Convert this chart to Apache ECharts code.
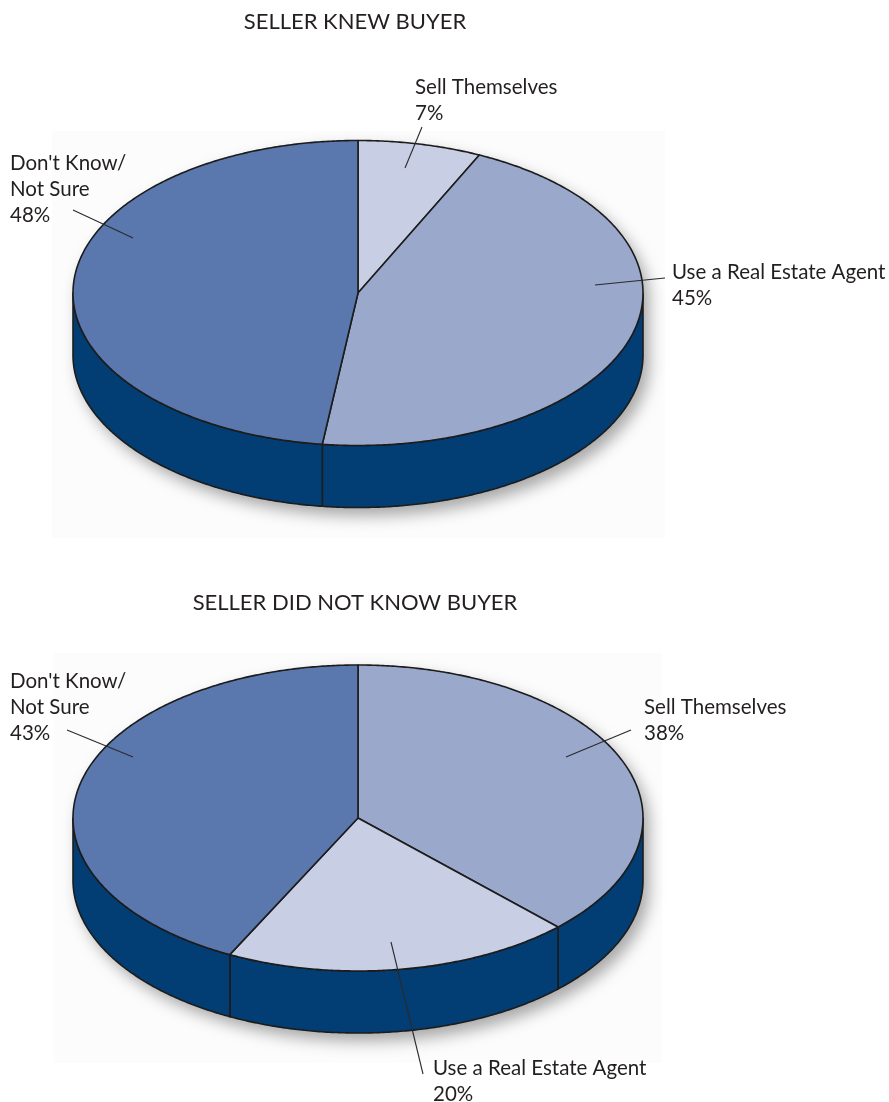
<!DOCTYPE html>
<html><head><meta charset="utf-8">
<script src="https://cdn.jsdelivr.net/npm/echarts@6/dist/echarts.min.js"></script>
<style>html,body{margin:0;padding:0;background:#fff}#c{width:889px;height:1102px}</style>
</head><body><div id="c"></div>
<script>
// ---- data ----
const titles = ['SELLER KNEW BUYER', 'SELLER DID NOT KNOW BUYER'];
const categories = ['Sell Themselves', 'Use a Real Estate Agent', "Don't Know/\nNot Sure"];
const knewValues = [7, 45, 48];
const didNotKnowValues = [38, 20, 43];

// ---- layout / style ----
const LIGHT = '#c8cee4', MEDIUM = '#9aa8cc', DARK = '#5a78ad', SIDE = '#023e73';
const TEXT = '#231f20', EDGE = '#1c1c1c';
const FONT = '20.5px Lato';
const TITLE_FONT = '22px Lato';
const pies = [
  { values: knewValues, cx: 358, cy: 293, rx: 285, ry: 152.5, depth: 62, titleY: 22,
    colors: [LIGHT, MEDIUM, DARK], box: [52, 131, 613, 407],
    labels: [ { x: 415, y: 87, line: [[422, 127], [405, 168]] },
              { x: 672, y: 272, line: [[665, 278], [595, 285]] },
              { x: 10, y: 163, line: [[73, 210], [133, 238]] } ] },
  { values: didNotKnowValues, cx: 358, cy: 818, rx: 285, ry: 153, depth: 62, titleY: 603,
    colors: [MEDIUM, LIGHT, DARK], box: [54, 653, 608, 410],
    labels: [ { x: 644, y: 707, line: [[631, 730], [566, 757]] },
              { x: 433, y: 1068, line: [[423, 1074], [391, 942]] },
              { x: 10, y: 681, line: [[67, 730], [133, 757]] } ] }
];

const RAD = Math.PI / 180;
function makeRender(p) {
  const pt = (deg, dy) => [p.cx + p.rx * Math.sin(deg * RAD), p.cy - p.ry * Math.cos(deg * RAD) + (dy || 0)];
  const arc = (a, b, dy) => {
    const out = []; const n = Math.max(2, Math.ceil(Math.abs(b - a) / 0.5));
    for (let k = 0; k <= n; k++) out.push(pt(a + (b - a) * k / n, dy));
    return out;
  };
  return function (params, api) {
    const i = params.dataIndex;
    const vals = p.values;
    const total = vals.reduce((s, v) => s + v, 0);
    let before = 0; for (let k = 0; k < i; k++) before += vals[k];
    const a = before / total * 360;
    const b = (before + api.value(0)) / total * 360;
    const children = [];
    if (i === 0) {
      const sil = arc(90, 270, p.depth).concat(arc(270, 450, 0));
      children.push({ type: 'polygon', shape: { points: sil },
        style: { fill: SIDE, shadowBlur: 16, shadowOffsetX: 6, shadowOffsetY: 8, shadowColor: 'rgba(0,0,0,0.35)' } });
    }
    const s = Math.max(a, 90), e = Math.min(b, 270);
    if (s < e) {
      const side = arc(s, e, 0).concat(arc(e, s, p.depth));
      children.push({ type: 'polygon', shape: { points: side },
        style: { fill: SIDE, stroke: EDGE, lineWidth: 1.6, lineJoin: 'round' } });
    }
    const top = [[p.cx, p.cy]].concat(arc(a, b, 0));
    children.push({ type: 'polygon', shape: { points: top },
      style: { fill: p.colors[i], stroke: EDGE, lineWidth: 1.6, lineJoin: 'round' } });
    return { type: 'group', children };
  };
}

const graphic = [];
pies.forEach((p, pi) => {
  graphic.push({ type: 'rect', z: -10, silent: true,
    shape: { x: p.box[0], y: p.box[1], width: p.box[2], height: p.box[3] },
    style: { fill: '#fcfcfc' } });
  graphic.push({ type: 'text', z: 100, x: 355, y: p.titleY, silent: true,
    style: { text: titles[pi], font: TITLE_FONT, fill: TEXT, align: 'center', verticalAlign: 'middle' } });
  p.labels.forEach((l, i) => {
    graphic.push({ type: 'text', z: 100, x: l.x, y: l.y - 13, silent: true,
      style: { text: categories[i] + '\n' + p.values[i] + '%', font: FONT, fill: TEXT, lineHeight: 26, verticalAlign: 'top' } });
    graphic.push({ type: 'line', z: 100, silent: true,
      shape: { x1: l.line[0][0], y1: l.line[0][1], x2: l.line[1][0], y2: l.line[1][1] },
      style: { stroke: '#2a2a2a', lineWidth: 1.1 } });
  });
});

const chart = echarts.init(document.getElementById('c'), null, { renderer: 'canvas' });
chart.setOption({
  animation: false,
  backgroundColor: '#ffffff',
  graphic: graphic,
  series: pies.map((p, pi) => ({
    type: 'custom', coordinateSystem: 'none', silent: true, z: 2,
    renderItem: makeRender(p),
    data: p.values.map((v, i) => ({ name: categories[i], value: v }))
  }))
});
</script></body></html>
